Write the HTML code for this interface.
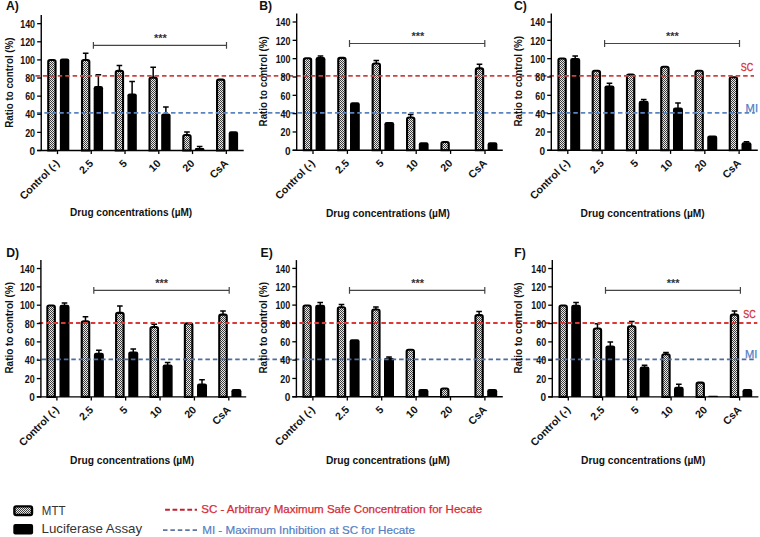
<!DOCTYPE html><html><head><meta charset="utf-8"><style>html,body{margin:0;padding:0;background:#fff;}svg{display:block;}</style></head><body>
<div class="wrap"><svg width="760" height="537" viewBox="0 0 760 537">
<defs><pattern id="chk" patternUnits="userSpaceOnUse" width="2" height="2"><rect width="2" height="2" fill="#e9e9e9"/><rect width="1" height="1" fill="#3e3e3e"/><rect x="1" y="1" width="1" height="1" fill="#3e3e3e"/></pattern></defs>
<rect width="760" height="537" fill="#fff"/>
<g>
<g><path d="M48.25 150.5V61.85Q48.25 60.05 50.05 60.05H53.75Q55.55 60.05 55.55 61.85V150.5Z" fill="url(#chk)" stroke="#000" stroke-width="2.1"/><path d="M59.9 150.5V60.6Q59.9 58.4 62.1 58.4H67.1Q69.3 58.4 69.3 60.6V150.5Z" fill="#000"/><path d="M85.66 60V53M82.86 53.3H88.46" stroke="#000" stroke-width="1.5" fill="none"/><path d="M82.01 150.5V61.85Q82.01 60.05 83.81 60.05H87.51Q89.31 60.05 89.31 61.85V150.5Z" fill="url(#chk)" stroke="#000" stroke-width="2.1"/><path d="M98.36 87V74.5M95.56 74.8H101.16" stroke="#000" stroke-width="1.5" fill="none"/><path d="M93.66 150.5V88.2Q93.66 86 95.86 86H100.86Q103.06 86 103.06 88.2V150.5Z" fill="#000"/><path d="M119.42 70.8V65.3M116.62 65.6H122.22" stroke="#000" stroke-width="1.5" fill="none"/><path d="M115.77 150.5V72.65Q115.77 70.85 117.57 70.85H121.27Q123.07 70.85 123.07 72.65V150.5Z" fill="url(#chk)" stroke="#000" stroke-width="2.1"/><path d="M132.12 94.4V81.1M129.32 81.4H134.92" stroke="#000" stroke-width="1.5" fill="none"/><path d="M127.42 150.5V95.6Q127.42 93.4 129.62 93.4H134.62Q136.82 93.4 136.82 95.6V150.5Z" fill="#000"/><path d="M153.18 77.6V66.9M150.38 67.2H155.98" stroke="#000" stroke-width="1.5" fill="none"/><path d="M149.53 150.5V79.45Q149.53 77.65 151.33 77.65H155.03Q156.83 77.65 156.83 79.45V150.5Z" fill="url(#chk)" stroke="#000" stroke-width="2.1"/><path d="M165.88 114.4V106.7M163.08 107H168.68" stroke="#000" stroke-width="1.5" fill="none"/><path d="M161.18 150.5V115.6Q161.18 113.4 163.38 113.4H168.38Q170.58 113.4 170.58 115.6V150.5Z" fill="#000"/><path d="M186.94 135V131.8M184.14 132.1H189.74" stroke="#000" stroke-width="1.5" fill="none"/><path d="M183.29 150.5V136.85Q183.29 135.05 185.09 135.05H188.79Q190.59 135.05 190.59 136.85V150.5Z" fill="url(#chk)" stroke="#000" stroke-width="2.1"/><path d="M199.64 148.9V146.3M196.84 146.6H202.44" stroke="#000" stroke-width="1.5" fill="none"/><path d="M194.94 150.5V149.2Q194.94 147.9 196.24 147.9H203.04Q204.34 147.9 204.34 149.2V150.5Z" fill="#000"/><path d="M217.05 150.5V81.45Q217.05 79.65 218.85 79.65H222.55Q224.35 79.65 224.35 81.45V150.5Z" fill="url(#chk)" stroke="#000" stroke-width="2.1"/><path d="M228.7 150.5V133.4Q228.7 131.2 230.9 131.2H235.9Q238.1 131.2 238.1 133.4V150.5Z" fill="#000"/><path d="M303.85 150.3V60.05Q303.85 58.25 305.65 58.25H309.35Q311.15 58.25 311.15 60.05V150.3Z" fill="url(#chk)" stroke="#000" stroke-width="2.1"/><path d="M320.5 58V55.7M317.7 56H323.3" stroke="#000" stroke-width="1.5" fill="none"/><path d="M315.6 150.3V59.2Q315.6 57 317.8 57H323.2Q325.4 57 325.4 59.2V150.3Z" fill="#000"/><path d="M338.25 150.3V59.65Q338.25 57.85 340.05 57.85H343.75Q345.55 57.85 345.55 59.65V150.3Z" fill="url(#chk)" stroke="#000" stroke-width="2.1"/><path d="M350 150.3V104.4Q350 102.2 352.2 102.2H357.6Q359.8 102.2 359.8 104.4V150.3Z" fill="#000"/><path d="M376.3 63.4V60.2M373.5 60.5H379.1" stroke="#000" stroke-width="1.5" fill="none"/><path d="M372.65 150.3V65.25Q372.65 63.45 374.45 63.45H378.15Q379.95 63.45 379.95 65.25V150.3Z" fill="url(#chk)" stroke="#000" stroke-width="2.1"/><path d="M384.4 150.3V124.2Q384.4 122 386.6 122H392Q394.2 122 394.2 124.2V150.3Z" fill="#000"/><path d="M410.7 117.5V114.3M407.9 114.6H413.5" stroke="#000" stroke-width="1.5" fill="none"/><path d="M407.05 150.3V119.35Q407.05 117.55 408.85 117.55H412.55Q414.35 117.55 414.35 119.35V150.3Z" fill="url(#chk)" stroke="#000" stroke-width="2.1"/><path d="M418.8 150.3V144.4Q418.8 142.2 421 142.2H426.4Q428.6 142.2 428.6 144.4V150.3Z" fill="#000"/><path d="M441.45 150.3V143.85Q441.45 142.05 443.25 142.05H446.95Q448.75 142.05 448.75 143.85V150.3Z" fill="url(#chk)" stroke="#000" stroke-width="2.1"/><path d="M479.5 68.3V64M476.7 64.3H482.3" stroke="#000" stroke-width="1.5" fill="none"/><path d="M475.85 150.3V70.15Q475.85 68.35 477.65 68.35H481.35Q483.15 68.35 483.15 70.15V150.3Z" fill="url(#chk)" stroke="#000" stroke-width="2.1"/><path d="M487.6 150.3V144.4Q487.6 142.2 489.8 142.2H495.2Q497.4 142.2 497.4 144.4V150.3Z" fill="#000"/><path d="M558.45 150.3V60.25Q558.45 58.45 560.25 58.45H563.95Q565.75 58.45 565.75 60.25V150.3Z" fill="url(#chk)" stroke="#000" stroke-width="2.1"/><path d="M575.2 58.9V55.7M572.4 56H578" stroke="#000" stroke-width="1.5" fill="none"/><path d="M570.2 150.3V60.1Q570.2 57.9 572.4 57.9H578Q580.2 57.9 580.2 60.1V150.3Z" fill="#000"/><path d="M592.71 150.3V72.55Q592.71 70.75 594.51 70.75H598.21Q600.01 70.75 600.01 72.55V150.3Z" fill="url(#chk)" stroke="#000" stroke-width="2.1"/><path d="M609.46 86.4V83M606.66 83.3H612.26" stroke="#000" stroke-width="1.5" fill="none"/><path d="M604.46 150.3V87.6Q604.46 85.4 606.66 85.4H612.26Q614.46 85.4 614.46 87.6V150.3Z" fill="#000"/><path d="M626.97 150.3V76.35Q626.97 74.55 628.77 74.55H632.47Q634.27 74.55 634.27 76.35V150.3Z" fill="url(#chk)" stroke="#000" stroke-width="2.1"/><path d="M643.72 101.8V99.1M640.92 99.4H646.52" stroke="#000" stroke-width="1.5" fill="none"/><path d="M638.72 150.3V103Q638.72 100.8 640.92 100.8H646.52Q648.72 100.8 648.72 103V150.3Z" fill="#000"/><path d="M661.23 150.3V68.55Q661.23 66.75 663.03 66.75H666.73Q668.53 66.75 668.53 68.55V150.3Z" fill="url(#chk)" stroke="#000" stroke-width="2.1"/><path d="M677.98 108.5V102.7M675.18 103H680.78" stroke="#000" stroke-width="1.5" fill="none"/><path d="M672.98 150.3V109.7Q672.98 107.5 675.18 107.5H680.78Q682.98 107.5 682.98 109.7V150.3Z" fill="#000"/><path d="M695.49 150.3V72.55Q695.49 70.75 697.29 70.75H700.99Q702.79 70.75 702.79 72.55V150.3Z" fill="url(#chk)" stroke="#000" stroke-width="2.1"/><path d="M707.24 150.3V137.7Q707.24 135.5 709.44 135.5H715.04Q717.24 135.5 717.24 137.7V150.3Z" fill="#000"/><path d="M729.75 150.3V79.05Q729.75 77.25 731.55 77.25H735.25Q737.05 77.25 737.05 79.05V150.3Z" fill="url(#chk)" stroke="#000" stroke-width="2.1"/><path d="M746.5 143.2V141.5M743.7 141.8H749.3" stroke="#000" stroke-width="1.5" fill="none"/><path d="M741.5 150.3V144.4Q741.5 142.2 743.7 142.2H749.3Q751.5 142.2 751.5 144.4V150.3Z" fill="#000"/><path d="M47.35 396.9V307.35Q47.35 305.55 49.15 305.55H53.05Q54.85 305.55 54.85 307.35V396.9Z" fill="url(#chk)" stroke="#000" stroke-width="2.1"/><path d="M64.5 305.7V302.7M61.7 303H67.3" stroke="#000" stroke-width="1.5" fill="none"/><path d="M59.5 396.9V306.9Q59.5 304.7 61.7 304.7H67.3Q69.5 304.7 69.5 306.9V396.9Z" fill="#000"/><path d="M85.48 321.3V316.4M82.68 316.7H88.28" stroke="#000" stroke-width="1.5" fill="none"/><path d="M81.73 396.9V323.15Q81.73 321.35 83.53 321.35H87.43Q89.23 321.35 89.23 323.15V396.9Z" fill="url(#chk)" stroke="#000" stroke-width="2.1"/><path d="M98.88 353.7V349.9M96.08 350.2H101.68" stroke="#000" stroke-width="1.5" fill="none"/><path d="M93.88 396.9V354.9Q93.88 352.7 96.08 352.7H101.68Q103.88 352.7 103.88 354.9V396.9Z" fill="#000"/><path d="M119.86 312.8V305.6M117.06 305.9H122.66" stroke="#000" stroke-width="1.5" fill="none"/><path d="M116.11 396.9V314.65Q116.11 312.85 117.91 312.85H121.81Q123.61 312.85 123.61 314.65V396.9Z" fill="url(#chk)" stroke="#000" stroke-width="2.1"/><path d="M133.26 352.4V348.8M130.46 349.1H136.06" stroke="#000" stroke-width="1.5" fill="none"/><path d="M128.26 396.9V353.6Q128.26 351.4 130.46 351.4H136.06Q138.26 351.4 138.26 353.6V396.9Z" fill="#000"/><path d="M154.24 326.9V324M151.44 324.3H157.04" stroke="#000" stroke-width="1.5" fill="none"/><path d="M150.49 396.9V328.75Q150.49 326.95 152.29 326.95H156.19Q157.99 326.95 157.99 328.75V396.9Z" fill="url(#chk)" stroke="#000" stroke-width="2.1"/><path d="M167.64 365.4V362.2M164.84 362.5H170.44" stroke="#000" stroke-width="1.5" fill="none"/><path d="M162.64 396.9V366.6Q162.64 364.4 164.84 364.4H170.44Q172.64 364.4 172.64 366.6V396.9Z" fill="#000"/><path d="M184.87 396.9V325.15Q184.87 323.35 186.67 323.35H190.57Q192.37 323.35 192.37 325.15V396.9Z" fill="url(#chk)" stroke="#000" stroke-width="2.1"/><path d="M202.02 384.4V379.4M199.22 379.7H204.82" stroke="#000" stroke-width="1.5" fill="none"/><path d="M197.02 396.9V385.6Q197.02 383.4 199.22 383.4H204.82Q207.02 383.4 207.02 385.6V396.9Z" fill="#000"/><path d="M223 314.6V310.8M220.2 311.1H225.8" stroke="#000" stroke-width="1.5" fill="none"/><path d="M219.25 396.9V316.45Q219.25 314.65 221.05 314.65H224.95Q226.75 314.65 226.75 316.45V396.9Z" fill="url(#chk)" stroke="#000" stroke-width="2.1"/><path d="M231.4 396.9V391.2Q231.4 389 233.6 389H239.2Q241.4 389 241.4 391.2V396.9Z" fill="#000"/><path d="M303.45 396.8V307.35Q303.45 305.55 305.25 305.55H308.95Q310.75 305.55 310.75 307.35V396.8Z" fill="url(#chk)" stroke="#000" stroke-width="2.1"/><path d="M320.2 305.7V302.3M317.4 302.6H323" stroke="#000" stroke-width="1.5" fill="none"/><path d="M315.2 396.8V306.9Q315.2 304.7 317.4 304.7H323Q325.2 304.7 325.2 306.9V396.8Z" fill="#000"/><path d="M341.5 307.2V304.1M338.7 304.4H344.3" stroke="#000" stroke-width="1.5" fill="none"/><path d="M337.85 396.8V309.05Q337.85 307.25 339.65 307.25H343.35Q345.15 307.25 345.15 309.05V396.8Z" fill="url(#chk)" stroke="#000" stroke-width="2.1"/><path d="M349.6 396.8V341.5Q349.6 339.3 351.8 339.3H357.4Q359.6 339.3 359.6 341.5V396.8Z" fill="#000"/><path d="M375.9 309.5V306.7M373.1 307H378.7" stroke="#000" stroke-width="1.5" fill="none"/><path d="M372.25 396.8V311.35Q372.25 309.55 374.05 309.55H377.75Q379.55 309.55 379.55 311.35V396.8Z" fill="url(#chk)" stroke="#000" stroke-width="2.1"/><path d="M389 358.7V356.6M386.2 356.9H391.8" stroke="#000" stroke-width="1.5" fill="none"/><path d="M384 396.8V359.9Q384 357.7 386.2 357.7H391.8Q394 357.7 394 359.9V396.8Z" fill="#000"/><path d="M406.65 396.8V351.55Q406.65 349.75 408.45 349.75H412.15Q413.95 349.75 413.95 351.55V396.8Z" fill="url(#chk)" stroke="#000" stroke-width="2.1"/><path d="M418.4 396.8V391.2Q418.4 389 420.6 389H426.2Q428.4 389 428.4 391.2V396.8Z" fill="#000"/><path d="M441.05 396.8V390.25Q441.05 388.45 442.85 388.45H446.55Q448.35 388.45 448.35 390.25V396.8Z" fill="url(#chk)" stroke="#000" stroke-width="2.1"/><path d="M479.1 315.1V311.2M476.3 311.5H481.9" stroke="#000" stroke-width="1.5" fill="none"/><path d="M475.45 396.8V316.95Q475.45 315.15 477.25 315.15H480.95Q482.75 315.15 482.75 316.95V396.8Z" fill="url(#chk)" stroke="#000" stroke-width="2.1"/><path d="M487.2 396.8V391.2Q487.2 389 489.4 389H495Q497.2 389 497.2 391.2V396.8Z" fill="#000"/><path d="M559.55 396.9V307.35Q559.55 305.55 561.35 305.55H565.05Q566.85 305.55 566.85 307.35V396.9Z" fill="url(#chk)" stroke="#000" stroke-width="2.1"/><path d="M576.05 305.7V302.3M573.25 302.6H578.85" stroke="#000" stroke-width="1.5" fill="none"/><path d="M571.2 396.9V306.9Q571.2 304.7 573.4 304.7H578.7Q580.9 304.7 580.9 306.9V396.9Z" fill="#000"/><path d="M597.46 328.5V323.5M594.66 323.8H600.26" stroke="#000" stroke-width="1.5" fill="none"/><path d="M593.81 396.9V330.35Q593.81 328.55 595.61 328.55H599.31Q601.11 328.55 601.11 330.35V396.9Z" fill="url(#chk)" stroke="#000" stroke-width="2.1"/><path d="M610.31 346.4V341.8M607.51 342.1H613.11" stroke="#000" stroke-width="1.5" fill="none"/><path d="M605.46 396.9V347.6Q605.46 345.4 607.66 345.4H612.96Q615.16 345.4 615.16 347.6V396.9Z" fill="#000"/><path d="M631.72 326.2V321.3M628.92 321.6H634.52" stroke="#000" stroke-width="1.5" fill="none"/><path d="M628.07 396.9V328.05Q628.07 326.25 629.87 326.25H633.57Q635.37 326.25 635.37 328.05V396.9Z" fill="url(#chk)" stroke="#000" stroke-width="2.1"/><path d="M644.57 367.6V364.9M641.77 365.2H647.37" stroke="#000" stroke-width="1.5" fill="none"/><path d="M639.72 396.9V368.8Q639.72 366.6 641.92 366.6H647.22Q649.42 366.6 649.42 368.8V396.9Z" fill="#000"/><path d="M665.98 354.2V352.1M663.18 352.4H668.78" stroke="#000" stroke-width="1.5" fill="none"/><path d="M662.33 396.9V356.05Q662.33 354.25 664.13 354.25H667.83Q669.63 354.25 669.63 356.05V396.9Z" fill="url(#chk)" stroke="#000" stroke-width="2.1"/><path d="M678.83 387.7V383.9M676.03 384.2H681.63" stroke="#000" stroke-width="1.5" fill="none"/><path d="M673.98 396.9V388.9Q673.98 386.7 676.18 386.7H681.48Q683.68 386.7 683.68 388.9V396.9Z" fill="#000"/><path d="M696.59 396.9V384.45Q696.59 382.65 698.39 382.65H702.09Q703.89 382.65 703.89 384.45V396.9Z" fill="url(#chk)" stroke="#000" stroke-width="2.1"/><path d="M708.24 396.9V396.3Q708.24 395.7 708.84 395.7H717.34Q717.94 395.7 717.94 396.3V396.9Z" fill="#000"/><path d="M734.5 314.6V310.8M731.7 311.1H737.3" stroke="#000" stroke-width="1.5" fill="none"/><path d="M730.85 396.9V316.45Q730.85 314.65 732.65 314.65H736.35Q738.15 314.65 738.15 316.45V396.9Z" fill="url(#chk)" stroke="#000" stroke-width="2.1"/><path d="M742.5 396.9V391.2Q742.5 389 744.7 389H750Q752.2 389 752.2 391.2V396.9Z" fill="#000"/></g>
<line x1="35.4" y1="75.85" x2="754" y2="75.85" stroke="#cc4242" stroke-width="1.8" stroke-dasharray="4.5 2.95" stroke-dashoffset="7.45"/>
<line x1="36.9" y1="112.95" x2="754.8" y2="112.95" stroke="#5a84c0" stroke-width="1.7" stroke-dasharray="4.5 2.95" stroke-dashoffset="7.45"/>
<line x1="36.9" y1="322.95" x2="757.3" y2="322.95" stroke="#dc3838" stroke-width="1.9" stroke-dasharray="4.5 2.95" stroke-dashoffset="5.65"/>
<line x1="36.9" y1="359.4" x2="754" y2="359.4" stroke="#4d6d9e" stroke-width="1.6" stroke-dasharray="4.5 2.95" stroke-dashoffset="2.85"/>
<g><line x1="57.5" y1="150.5" x2="57.5" y2="154.1" stroke="#000" stroke-width="1.3"/><text transform="translate(60.1 164.1) rotate(-45)" text-anchor="end" font-family='"Liberation Sans", sans-serif' font-weight="bold" font-size="10.6" fill="#111">Control (-)</text><line x1="91.26" y1="150.5" x2="91.26" y2="154.1" stroke="#000" stroke-width="1.3"/><text transform="translate(93.86 164.1) rotate(-45)" text-anchor="end" font-family='"Liberation Sans", sans-serif' font-weight="bold" font-size="10.6" fill="#111">2.5</text><line x1="125.02" y1="150.5" x2="125.02" y2="154.1" stroke="#000" stroke-width="1.3"/><text transform="translate(127.62 164.1) rotate(-45)" text-anchor="end" font-family='"Liberation Sans", sans-serif' font-weight="bold" font-size="10.6" fill="#111">5</text><line x1="158.78" y1="150.5" x2="158.78" y2="154.1" stroke="#000" stroke-width="1.3"/><text transform="translate(161.38 164.1) rotate(-45)" text-anchor="end" font-family='"Liberation Sans", sans-serif' font-weight="bold" font-size="10.6" fill="#111">10</text><line x1="192.54" y1="150.5" x2="192.54" y2="154.1" stroke="#000" stroke-width="1.3"/><text transform="translate(195.14 164.1) rotate(-45)" text-anchor="end" font-family='"Liberation Sans", sans-serif' font-weight="bold" font-size="10.6" fill="#111">20</text><line x1="226.3" y1="150.5" x2="226.3" y2="154.1" stroke="#000" stroke-width="1.3"/><text transform="translate(228.9 164.1) rotate(-45)" text-anchor="end" font-family='"Liberation Sans", sans-serif' font-weight="bold" font-size="10.6" fill="#111">CsA</text><text x="6" y="10.2" font-family='"Liberation Sans", sans-serif' font-weight="bold" font-size="12.2" fill="#111">A)</text><line x1="41.25" y1="15.1" x2="41.25" y2="151.1" stroke="#000" stroke-width="1.4"/><line x1="37.15" y1="150.5" x2="41.25" y2="150.5" stroke="#000" stroke-width="1.3"/><text x="35.05" y="154.7" text-anchor="end" font-family='"Liberation Sans", sans-serif' font-weight="bold" font-size="10" fill="#111">0</text><line x1="37.15" y1="132.38" x2="41.25" y2="132.38" stroke="#000" stroke-width="1.3"/><text x="35.05" y="136.58" text-anchor="end" font-family='"Liberation Sans", sans-serif' font-weight="bold" font-size="10" textLength="9.9" lengthAdjust="spacingAndGlyphs" fill="#111">20</text><line x1="37.15" y1="114.26" x2="41.25" y2="114.26" stroke="#000" stroke-width="1.3"/><text x="35.05" y="118.46" text-anchor="end" font-family='"Liberation Sans", sans-serif' font-weight="bold" font-size="10" textLength="9.9" lengthAdjust="spacingAndGlyphs" fill="#111">40</text><line x1="37.15" y1="96.14" x2="41.25" y2="96.14" stroke="#000" stroke-width="1.3"/><text x="35.05" y="100.34" text-anchor="end" font-family='"Liberation Sans", sans-serif' font-weight="bold" font-size="10" textLength="9.9" lengthAdjust="spacingAndGlyphs" fill="#111">60</text><line x1="37.15" y1="78.02" x2="41.25" y2="78.02" stroke="#000" stroke-width="1.3"/><text x="35.05" y="82.22" text-anchor="end" font-family='"Liberation Sans", sans-serif' font-weight="bold" font-size="10" textLength="9.9" lengthAdjust="spacingAndGlyphs" fill="#111">80</text><line x1="37.15" y1="59.9" x2="41.25" y2="59.9" stroke="#000" stroke-width="1.3"/><text x="35.05" y="64.1" text-anchor="end" font-family='"Liberation Sans", sans-serif' font-weight="bold" font-size="10" textLength="14.8" lengthAdjust="spacingAndGlyphs" fill="#111">100</text><line x1="37.15" y1="41.78" x2="41.25" y2="41.78" stroke="#000" stroke-width="1.3"/><text x="35.05" y="45.98" text-anchor="end" font-family='"Liberation Sans", sans-serif' font-weight="bold" font-size="10" textLength="14.8" lengthAdjust="spacingAndGlyphs" fill="#111">120</text><line x1="37.15" y1="23.66" x2="41.25" y2="23.66" stroke="#000" stroke-width="1.3"/><text x="35.05" y="27.86" text-anchor="end" font-family='"Liberation Sans", sans-serif' font-weight="bold" font-size="10" textLength="14.8" lengthAdjust="spacingAndGlyphs" fill="#111">140</text><line x1="37.15" y1="150.5" x2="243.7" y2="150.5" stroke="#000" stroke-width="1.4"/><path d="M93.4 42V48.8M93.4 45.4H226.5M226.5 42V48.8" stroke="#444" stroke-width="1.2" fill="none"/><text x="160.4" y="42.1" text-anchor="middle" font-family='"Liberation Sans", sans-serif' font-size="11" font-weight="bold" fill="#333">***</text><text transform="translate(12.6 82.6) rotate(-90)" text-anchor="middle" font-family='"Liberation Sans", sans-serif' font-weight="bold" font-size="10" textLength="90.3" lengthAdjust="spacingAndGlyphs" fill="#111">Ratio to control (%)</text><text x="70.1" y="216.2" font-family='"Liberation Sans", sans-serif' font-weight="bold" font-size="10" textLength="122.1" lengthAdjust="spacingAndGlyphs" fill="#111">Drug concentrations (µM)</text><line x1="313" y1="150.3" x2="313" y2="153.9" stroke="#000" stroke-width="1.3"/><text transform="translate(315.6 163.9) rotate(-45)" text-anchor="end" font-family='"Liberation Sans", sans-serif' font-weight="bold" font-size="10.6" fill="#111">Control (-)</text><line x1="347.4" y1="150.3" x2="347.4" y2="153.9" stroke="#000" stroke-width="1.3"/><text transform="translate(350 163.9) rotate(-45)" text-anchor="end" font-family='"Liberation Sans", sans-serif' font-weight="bold" font-size="10.6" fill="#111">2.5</text><line x1="381.8" y1="150.3" x2="381.8" y2="153.9" stroke="#000" stroke-width="1.3"/><text transform="translate(384.4 163.9) rotate(-45)" text-anchor="end" font-family='"Liberation Sans", sans-serif' font-weight="bold" font-size="10.6" fill="#111">5</text><line x1="416.2" y1="150.3" x2="416.2" y2="153.9" stroke="#000" stroke-width="1.3"/><text transform="translate(418.8 163.9) rotate(-45)" text-anchor="end" font-family='"Liberation Sans", sans-serif' font-weight="bold" font-size="10.6" fill="#111">10</text><line x1="450.6" y1="150.3" x2="450.6" y2="153.9" stroke="#000" stroke-width="1.3"/><text transform="translate(453.2 163.9) rotate(-45)" text-anchor="end" font-family='"Liberation Sans", sans-serif' font-weight="bold" font-size="10.6" fill="#111">20</text><line x1="485" y1="150.3" x2="485" y2="153.9" stroke="#000" stroke-width="1.3"/><text transform="translate(487.6 163.9) rotate(-45)" text-anchor="end" font-family='"Liberation Sans", sans-serif' font-weight="bold" font-size="10.6" fill="#111">CsA</text><text x="259.3" y="10.4" font-family='"Liberation Sans", sans-serif' font-weight="bold" font-size="12.2" fill="#111">B)</text><line x1="296.7" y1="13.4" x2="296.7" y2="150.9" stroke="#000" stroke-width="1.4"/><line x1="292.6" y1="150.3" x2="296.7" y2="150.3" stroke="#000" stroke-width="1.3"/><text x="290.5" y="154.5" text-anchor="end" font-family='"Liberation Sans", sans-serif' font-weight="bold" font-size="10" fill="#111">0</text><line x1="292.6" y1="131.97" x2="296.7" y2="131.97" stroke="#000" stroke-width="1.3"/><text x="290.5" y="136.17" text-anchor="end" font-family='"Liberation Sans", sans-serif' font-weight="bold" font-size="10" textLength="9.9" lengthAdjust="spacingAndGlyphs" fill="#111">20</text><line x1="292.6" y1="113.64" x2="296.7" y2="113.64" stroke="#000" stroke-width="1.3"/><text x="290.5" y="117.84" text-anchor="end" font-family='"Liberation Sans", sans-serif' font-weight="bold" font-size="10" textLength="9.9" lengthAdjust="spacingAndGlyphs" fill="#111">40</text><line x1="292.6" y1="95.32" x2="296.7" y2="95.32" stroke="#000" stroke-width="1.3"/><text x="290.5" y="99.52" text-anchor="end" font-family='"Liberation Sans", sans-serif' font-weight="bold" font-size="10" textLength="9.9" lengthAdjust="spacingAndGlyphs" fill="#111">60</text><line x1="292.6" y1="76.99" x2="296.7" y2="76.99" stroke="#000" stroke-width="1.3"/><text x="290.5" y="81.19" text-anchor="end" font-family='"Liberation Sans", sans-serif' font-weight="bold" font-size="10" textLength="9.9" lengthAdjust="spacingAndGlyphs" fill="#111">80</text><line x1="292.6" y1="58.66" x2="296.7" y2="58.66" stroke="#000" stroke-width="1.3"/><text x="290.5" y="62.86" text-anchor="end" font-family='"Liberation Sans", sans-serif' font-weight="bold" font-size="10" textLength="14.8" lengthAdjust="spacingAndGlyphs" fill="#111">100</text><line x1="292.6" y1="40.33" x2="296.7" y2="40.33" stroke="#000" stroke-width="1.3"/><text x="290.5" y="44.53" text-anchor="end" font-family='"Liberation Sans", sans-serif' font-weight="bold" font-size="10" textLength="14.8" lengthAdjust="spacingAndGlyphs" fill="#111">120</text><line x1="292.6" y1="22" x2="296.7" y2="22" stroke="#000" stroke-width="1.3"/><text x="290.5" y="26.2" text-anchor="end" font-family='"Liberation Sans", sans-serif' font-weight="bold" font-size="10" textLength="14.8" lengthAdjust="spacingAndGlyphs" fill="#111">140</text><line x1="292.6" y1="150.3" x2="502.8" y2="150.3" stroke="#000" stroke-width="1.4"/><path d="M349.5 40.1V46.9M349.5 43.5H484.8M484.8 40.1V46.9" stroke="#444" stroke-width="1.2" fill="none"/><text x="417.9" y="40" text-anchor="middle" font-family='"Liberation Sans", sans-serif' font-size="11" font-weight="bold" fill="#333">***</text><text transform="translate(267.4 81.3) rotate(-90)" text-anchor="middle" font-family='"Liberation Sans", sans-serif' font-weight="bold" font-size="10" textLength="90.2" lengthAdjust="spacingAndGlyphs" fill="#111">Ratio to control (%)</text><text x="325.9" y="216.8" font-family='"Liberation Sans", sans-serif' font-weight="bold" font-size="10" textLength="124" lengthAdjust="spacingAndGlyphs" fill="#111">Drug concentrations (µM)</text><line x1="567.8" y1="150.3" x2="567.8" y2="153.9" stroke="#000" stroke-width="1.3"/><text transform="translate(570.4 163.9) rotate(-45)" text-anchor="end" font-family='"Liberation Sans", sans-serif' font-weight="bold" font-size="10.6" fill="#111">Control (-)</text><line x1="602.06" y1="150.3" x2="602.06" y2="153.9" stroke="#000" stroke-width="1.3"/><text transform="translate(604.66 163.9) rotate(-45)" text-anchor="end" font-family='"Liberation Sans", sans-serif' font-weight="bold" font-size="10.6" fill="#111">2.5</text><line x1="636.32" y1="150.3" x2="636.32" y2="153.9" stroke="#000" stroke-width="1.3"/><text transform="translate(638.92 163.9) rotate(-45)" text-anchor="end" font-family='"Liberation Sans", sans-serif' font-weight="bold" font-size="10.6" fill="#111">5</text><line x1="670.58" y1="150.3" x2="670.58" y2="153.9" stroke="#000" stroke-width="1.3"/><text transform="translate(673.18 163.9) rotate(-45)" text-anchor="end" font-family='"Liberation Sans", sans-serif' font-weight="bold" font-size="10.6" fill="#111">10</text><line x1="704.84" y1="150.3" x2="704.84" y2="153.9" stroke="#000" stroke-width="1.3"/><text transform="translate(707.44 163.9) rotate(-45)" text-anchor="end" font-family='"Liberation Sans", sans-serif' font-weight="bold" font-size="10.6" fill="#111">20</text><line x1="739.1" y1="150.3" x2="739.1" y2="153.9" stroke="#000" stroke-width="1.3"/><text transform="translate(741.7 163.9) rotate(-45)" text-anchor="end" font-family='"Liberation Sans", sans-serif' font-weight="bold" font-size="10.6" fill="#111">CsA</text><text x="514" y="10.3" font-family='"Liberation Sans", sans-serif' font-weight="bold" font-size="12.2" fill="#111">C)</text><line x1="551.3" y1="13.4" x2="551.3" y2="150.9" stroke="#000" stroke-width="1.4"/><line x1="547.2" y1="150.3" x2="551.3" y2="150.3" stroke="#000" stroke-width="1.3"/><text x="545.1" y="154.5" text-anchor="end" font-family='"Liberation Sans", sans-serif' font-weight="bold" font-size="10" fill="#111">0</text><line x1="547.2" y1="131.97" x2="551.3" y2="131.97" stroke="#000" stroke-width="1.3"/><text x="545.1" y="136.17" text-anchor="end" font-family='"Liberation Sans", sans-serif' font-weight="bold" font-size="10" textLength="9.9" lengthAdjust="spacingAndGlyphs" fill="#111">20</text><line x1="547.2" y1="113.64" x2="551.3" y2="113.64" stroke="#000" stroke-width="1.3"/><text x="545.1" y="117.84" text-anchor="end" font-family='"Liberation Sans", sans-serif' font-weight="bold" font-size="10" textLength="9.9" lengthAdjust="spacingAndGlyphs" fill="#111">40</text><line x1="547.2" y1="95.32" x2="551.3" y2="95.32" stroke="#000" stroke-width="1.3"/><text x="545.1" y="99.52" text-anchor="end" font-family='"Liberation Sans", sans-serif' font-weight="bold" font-size="10" textLength="9.9" lengthAdjust="spacingAndGlyphs" fill="#111">60</text><line x1="547.2" y1="76.99" x2="551.3" y2="76.99" stroke="#000" stroke-width="1.3"/><text x="545.1" y="81.19" text-anchor="end" font-family='"Liberation Sans", sans-serif' font-weight="bold" font-size="10" textLength="9.9" lengthAdjust="spacingAndGlyphs" fill="#111">80</text><line x1="547.2" y1="58.66" x2="551.3" y2="58.66" stroke="#000" stroke-width="1.3"/><text x="545.1" y="62.86" text-anchor="end" font-family='"Liberation Sans", sans-serif' font-weight="bold" font-size="10" textLength="14.8" lengthAdjust="spacingAndGlyphs" fill="#111">100</text><line x1="547.2" y1="40.33" x2="551.3" y2="40.33" stroke="#000" stroke-width="1.3"/><text x="545.1" y="44.53" text-anchor="end" font-family='"Liberation Sans", sans-serif' font-weight="bold" font-size="10" textLength="14.8" lengthAdjust="spacingAndGlyphs" fill="#111">120</text><line x1="547.2" y1="22" x2="551.3" y2="22" stroke="#000" stroke-width="1.3"/><text x="545.1" y="26.2" text-anchor="end" font-family='"Liberation Sans", sans-serif' font-weight="bold" font-size="10" textLength="14.8" lengthAdjust="spacingAndGlyphs" fill="#111">140</text><line x1="547.2" y1="150.3" x2="757.8" y2="150.3" stroke="#000" stroke-width="1.4"/><path d="M604.6 40.1V46.9M604.6 43.5H739.5M739.5 40.1V46.9" stroke="#444" stroke-width="1.2" fill="none"/><text x="672.4" y="40" text-anchor="middle" font-family='"Liberation Sans", sans-serif' font-size="11" font-weight="bold" fill="#333">***</text><text transform="translate(522 81.3) rotate(-90)" text-anchor="middle" font-family='"Liberation Sans", sans-serif' font-weight="bold" font-size="10" textLength="90.6" lengthAdjust="spacingAndGlyphs" fill="#111">Ratio to control (%)</text><text x="580.6" y="216.8" font-family='"Liberation Sans", sans-serif' font-weight="bold" font-size="10" textLength="124.2" lengthAdjust="spacingAndGlyphs" fill="#111">Drug concentrations (µM)</text><line x1="56.9" y1="396.9" x2="56.9" y2="400.5" stroke="#000" stroke-width="1.3"/><text transform="translate(59.5 410.5) rotate(-45)" text-anchor="end" font-family='"Liberation Sans", sans-serif' font-weight="bold" font-size="10.6" fill="#111">Control (-)</text><line x1="91.28" y1="396.9" x2="91.28" y2="400.5" stroke="#000" stroke-width="1.3"/><text transform="translate(93.88 410.5) rotate(-45)" text-anchor="end" font-family='"Liberation Sans", sans-serif' font-weight="bold" font-size="10.6" fill="#111">2.5</text><line x1="125.66" y1="396.9" x2="125.66" y2="400.5" stroke="#000" stroke-width="1.3"/><text transform="translate(128.26 410.5) rotate(-45)" text-anchor="end" font-family='"Liberation Sans", sans-serif' font-weight="bold" font-size="10.6" fill="#111">5</text><line x1="160.04" y1="396.9" x2="160.04" y2="400.5" stroke="#000" stroke-width="1.3"/><text transform="translate(162.64 410.5) rotate(-45)" text-anchor="end" font-family='"Liberation Sans", sans-serif' font-weight="bold" font-size="10.6" fill="#111">10</text><line x1="194.42" y1="396.9" x2="194.42" y2="400.5" stroke="#000" stroke-width="1.3"/><text transform="translate(197.02 410.5) rotate(-45)" text-anchor="end" font-family='"Liberation Sans", sans-serif' font-weight="bold" font-size="10.6" fill="#111">20</text><line x1="228.8" y1="396.9" x2="228.8" y2="400.5" stroke="#000" stroke-width="1.3"/><text transform="translate(231.4 410.5) rotate(-45)" text-anchor="end" font-family='"Liberation Sans", sans-serif' font-weight="bold" font-size="10.6" fill="#111">CsA</text><text x="6.3" y="257" font-family='"Liberation Sans", sans-serif' font-weight="bold" font-size="12.2" fill="#111">D)</text><line x1="40.9" y1="260.1" x2="40.9" y2="397.5" stroke="#000" stroke-width="1.4"/><line x1="36.8" y1="396.9" x2="40.9" y2="396.9" stroke="#000" stroke-width="1.3"/><text x="34.7" y="401.1" text-anchor="end" font-family='"Liberation Sans", sans-serif' font-weight="bold" font-size="10" fill="#111">0</text><line x1="36.8" y1="378.56" x2="40.9" y2="378.56" stroke="#000" stroke-width="1.3"/><text x="34.7" y="382.76" text-anchor="end" font-family='"Liberation Sans", sans-serif' font-weight="bold" font-size="10" textLength="9.9" lengthAdjust="spacingAndGlyphs" fill="#111">20</text><line x1="36.8" y1="360.22" x2="40.9" y2="360.22" stroke="#000" stroke-width="1.3"/><text x="34.7" y="364.42" text-anchor="end" font-family='"Liberation Sans", sans-serif' font-weight="bold" font-size="10" textLength="9.9" lengthAdjust="spacingAndGlyphs" fill="#111">40</text><line x1="36.8" y1="341.88" x2="40.9" y2="341.88" stroke="#000" stroke-width="1.3"/><text x="34.7" y="346.08" text-anchor="end" font-family='"Liberation Sans", sans-serif' font-weight="bold" font-size="10" textLength="9.9" lengthAdjust="spacingAndGlyphs" fill="#111">60</text><line x1="36.8" y1="323.54" x2="40.9" y2="323.54" stroke="#000" stroke-width="1.3"/><text x="34.7" y="327.74" text-anchor="end" font-family='"Liberation Sans", sans-serif' font-weight="bold" font-size="10" textLength="9.9" lengthAdjust="spacingAndGlyphs" fill="#111">80</text><line x1="36.8" y1="305.2" x2="40.9" y2="305.2" stroke="#000" stroke-width="1.3"/><text x="34.7" y="309.4" text-anchor="end" font-family='"Liberation Sans", sans-serif' font-weight="bold" font-size="10" textLength="14.8" lengthAdjust="spacingAndGlyphs" fill="#111">100</text><line x1="36.8" y1="286.86" x2="40.9" y2="286.86" stroke="#000" stroke-width="1.3"/><text x="34.7" y="291.06" text-anchor="end" font-family='"Liberation Sans", sans-serif' font-weight="bold" font-size="10" textLength="14.8" lengthAdjust="spacingAndGlyphs" fill="#111">120</text><line x1="36.8" y1="268.52" x2="40.9" y2="268.52" stroke="#000" stroke-width="1.3"/><text x="34.7" y="272.72" text-anchor="end" font-family='"Liberation Sans", sans-serif' font-weight="bold" font-size="10" textLength="14.8" lengthAdjust="spacingAndGlyphs" fill="#111">140</text><line x1="36.8" y1="396.9" x2="246.2" y2="396.9" stroke="#000" stroke-width="1.4"/><path d="M93.8 287V293.8M93.8 290.4H229.2M229.2 287V293.8" stroke="#444" stroke-width="1.2" fill="none"/><text x="161.6" y="286.6" text-anchor="middle" font-family='"Liberation Sans", sans-serif' font-size="11" font-weight="bold" fill="#333">***</text><text transform="translate(12.6 327.8) rotate(-90)" text-anchor="middle" font-family='"Liberation Sans", sans-serif' font-weight="bold" font-size="10" textLength="91.5" lengthAdjust="spacingAndGlyphs" fill="#111">Ratio to control (%)</text><text x="70" y="463.9" font-family='"Liberation Sans", sans-serif' font-weight="bold" font-size="10" textLength="124.2" lengthAdjust="spacingAndGlyphs" fill="#111">Drug concentrations (µM)</text><line x1="312.9" y1="396.8" x2="312.9" y2="400.4" stroke="#000" stroke-width="1.3"/><text transform="translate(315.5 410.4) rotate(-45)" text-anchor="end" font-family='"Liberation Sans", sans-serif' font-weight="bold" font-size="10.6" fill="#111">Control (-)</text><line x1="347.3" y1="396.8" x2="347.3" y2="400.4" stroke="#000" stroke-width="1.3"/><text transform="translate(349.9 410.4) rotate(-45)" text-anchor="end" font-family='"Liberation Sans", sans-serif' font-weight="bold" font-size="10.6" fill="#111">2.5</text><line x1="381.7" y1="396.8" x2="381.7" y2="400.4" stroke="#000" stroke-width="1.3"/><text transform="translate(384.3 410.4) rotate(-45)" text-anchor="end" font-family='"Liberation Sans", sans-serif' font-weight="bold" font-size="10.6" fill="#111">5</text><line x1="416.1" y1="396.8" x2="416.1" y2="400.4" stroke="#000" stroke-width="1.3"/><text transform="translate(418.7 410.4) rotate(-45)" text-anchor="end" font-family='"Liberation Sans", sans-serif' font-weight="bold" font-size="10.6" fill="#111">10</text><line x1="450.5" y1="396.8" x2="450.5" y2="400.4" stroke="#000" stroke-width="1.3"/><text transform="translate(453.1 410.4) rotate(-45)" text-anchor="end" font-family='"Liberation Sans", sans-serif' font-weight="bold" font-size="10.6" fill="#111">20</text><line x1="484.9" y1="396.8" x2="484.9" y2="400.4" stroke="#000" stroke-width="1.3"/><text transform="translate(487.5 410.4) rotate(-45)" text-anchor="end" font-family='"Liberation Sans", sans-serif' font-weight="bold" font-size="10.6" fill="#111">CsA</text><text x="260.6" y="257" font-family='"Liberation Sans", sans-serif' font-weight="bold" font-size="12.2" fill="#111">E)</text><line x1="296.4" y1="260.1" x2="296.4" y2="397.4" stroke="#000" stroke-width="1.4"/><line x1="292.3" y1="396.8" x2="296.4" y2="396.8" stroke="#000" stroke-width="1.3"/><text x="290.2" y="401" text-anchor="end" font-family='"Liberation Sans", sans-serif' font-weight="bold" font-size="10" fill="#111">0</text><line x1="292.3" y1="378.46" x2="296.4" y2="378.46" stroke="#000" stroke-width="1.3"/><text x="290.2" y="382.66" text-anchor="end" font-family='"Liberation Sans", sans-serif' font-weight="bold" font-size="10" textLength="9.9" lengthAdjust="spacingAndGlyphs" fill="#111">20</text><line x1="292.3" y1="360.12" x2="296.4" y2="360.12" stroke="#000" stroke-width="1.3"/><text x="290.2" y="364.32" text-anchor="end" font-family='"Liberation Sans", sans-serif' font-weight="bold" font-size="10" textLength="9.9" lengthAdjust="spacingAndGlyphs" fill="#111">40</text><line x1="292.3" y1="341.78" x2="296.4" y2="341.78" stroke="#000" stroke-width="1.3"/><text x="290.2" y="345.98" text-anchor="end" font-family='"Liberation Sans", sans-serif' font-weight="bold" font-size="10" textLength="9.9" lengthAdjust="spacingAndGlyphs" fill="#111">60</text><line x1="292.3" y1="323.44" x2="296.4" y2="323.44" stroke="#000" stroke-width="1.3"/><text x="290.2" y="327.64" text-anchor="end" font-family='"Liberation Sans", sans-serif' font-weight="bold" font-size="10" textLength="9.9" lengthAdjust="spacingAndGlyphs" fill="#111">80</text><line x1="292.3" y1="305.1" x2="296.4" y2="305.1" stroke="#000" stroke-width="1.3"/><text x="290.2" y="309.3" text-anchor="end" font-family='"Liberation Sans", sans-serif' font-weight="bold" font-size="10" textLength="14.8" lengthAdjust="spacingAndGlyphs" fill="#111">100</text><line x1="292.3" y1="286.76" x2="296.4" y2="286.76" stroke="#000" stroke-width="1.3"/><text x="290.2" y="290.96" text-anchor="end" font-family='"Liberation Sans", sans-serif' font-weight="bold" font-size="10" textLength="14.8" lengthAdjust="spacingAndGlyphs" fill="#111">120</text><line x1="292.3" y1="268.42" x2="296.4" y2="268.42" stroke="#000" stroke-width="1.3"/><text x="290.2" y="272.62" text-anchor="end" font-family='"Liberation Sans", sans-serif' font-weight="bold" font-size="10" textLength="14.8" lengthAdjust="spacingAndGlyphs" fill="#111">140</text><line x1="292.3" y1="396.8" x2="502.8" y2="396.8" stroke="#000" stroke-width="1.4"/><path d="M349.5 287V293.8M349.5 290.4H484.8M484.8 287V293.8" stroke="#444" stroke-width="1.2" fill="none"/><text x="417.7" y="286.6" text-anchor="middle" font-family='"Liberation Sans", sans-serif' font-size="11" font-weight="bold" fill="#333">***</text><text transform="translate(267 327.8) rotate(-90)" text-anchor="middle" font-family='"Liberation Sans", sans-serif' font-weight="bold" font-size="10" textLength="91.5" lengthAdjust="spacingAndGlyphs" fill="#111">Ratio to control (%)</text><text x="325.9" y="463.9" font-family='"Liberation Sans", sans-serif' font-weight="bold" font-size="10" textLength="124" lengthAdjust="spacingAndGlyphs" fill="#111">Drug concentrations (µM)</text><line x1="568.3" y1="396.9" x2="568.3" y2="400.5" stroke="#000" stroke-width="1.3"/><text transform="translate(570.9 410.5) rotate(-45)" text-anchor="end" font-family='"Liberation Sans", sans-serif' font-weight="bold" font-size="10.6" fill="#111">Control (-)</text><line x1="602.56" y1="396.9" x2="602.56" y2="400.5" stroke="#000" stroke-width="1.3"/><text transform="translate(605.16 410.5) rotate(-45)" text-anchor="end" font-family='"Liberation Sans", sans-serif' font-weight="bold" font-size="10.6" fill="#111">2.5</text><line x1="636.82" y1="396.9" x2="636.82" y2="400.5" stroke="#000" stroke-width="1.3"/><text transform="translate(639.42 410.5) rotate(-45)" text-anchor="end" font-family='"Liberation Sans", sans-serif' font-weight="bold" font-size="10.6" fill="#111">5</text><line x1="671.08" y1="396.9" x2="671.08" y2="400.5" stroke="#000" stroke-width="1.3"/><text transform="translate(673.68 410.5) rotate(-45)" text-anchor="end" font-family='"Liberation Sans", sans-serif' font-weight="bold" font-size="10.6" fill="#111">10</text><line x1="705.34" y1="396.9" x2="705.34" y2="400.5" stroke="#000" stroke-width="1.3"/><text transform="translate(707.94 410.5) rotate(-45)" text-anchor="end" font-family='"Liberation Sans", sans-serif' font-weight="bold" font-size="10.6" fill="#111">20</text><line x1="739.6" y1="396.9" x2="739.6" y2="400.5" stroke="#000" stroke-width="1.3"/><text transform="translate(742.2 410.5) rotate(-45)" text-anchor="end" font-family='"Liberation Sans", sans-serif' font-weight="bold" font-size="10.6" fill="#111">CsA</text><text x="514.2" y="257" font-family='"Liberation Sans", sans-serif' font-weight="bold" font-size="12.2" fill="#111">F)</text><line x1="552.3" y1="260.1" x2="552.3" y2="397.5" stroke="#000" stroke-width="1.4"/><line x1="548.2" y1="396.9" x2="552.3" y2="396.9" stroke="#000" stroke-width="1.3"/><text x="546.1" y="401.1" text-anchor="end" font-family='"Liberation Sans", sans-serif' font-weight="bold" font-size="10" fill="#111">0</text><line x1="548.2" y1="378.56" x2="552.3" y2="378.56" stroke="#000" stroke-width="1.3"/><text x="546.1" y="382.76" text-anchor="end" font-family='"Liberation Sans", sans-serif' font-weight="bold" font-size="10" textLength="9.9" lengthAdjust="spacingAndGlyphs" fill="#111">20</text><line x1="548.2" y1="360.22" x2="552.3" y2="360.22" stroke="#000" stroke-width="1.3"/><text x="546.1" y="364.42" text-anchor="end" font-family='"Liberation Sans", sans-serif' font-weight="bold" font-size="10" textLength="9.9" lengthAdjust="spacingAndGlyphs" fill="#111">40</text><line x1="548.2" y1="341.88" x2="552.3" y2="341.88" stroke="#000" stroke-width="1.3"/><text x="546.1" y="346.08" text-anchor="end" font-family='"Liberation Sans", sans-serif' font-weight="bold" font-size="10" textLength="9.9" lengthAdjust="spacingAndGlyphs" fill="#111">60</text><line x1="548.2" y1="323.54" x2="552.3" y2="323.54" stroke="#000" stroke-width="1.3"/><text x="546.1" y="327.74" text-anchor="end" font-family='"Liberation Sans", sans-serif' font-weight="bold" font-size="10" textLength="9.9" lengthAdjust="spacingAndGlyphs" fill="#111">80</text><line x1="548.2" y1="305.2" x2="552.3" y2="305.2" stroke="#000" stroke-width="1.3"/><text x="546.1" y="309.4" text-anchor="end" font-family='"Liberation Sans", sans-serif' font-weight="bold" font-size="10" textLength="14.8" lengthAdjust="spacingAndGlyphs" fill="#111">100</text><line x1="548.2" y1="286.86" x2="552.3" y2="286.86" stroke="#000" stroke-width="1.3"/><text x="546.1" y="291.06" text-anchor="end" font-family='"Liberation Sans", sans-serif' font-weight="bold" font-size="10" textLength="14.8" lengthAdjust="spacingAndGlyphs" fill="#111">120</text><line x1="548.2" y1="268.52" x2="552.3" y2="268.52" stroke="#000" stroke-width="1.3"/><text x="546.1" y="272.72" text-anchor="end" font-family='"Liberation Sans", sans-serif' font-weight="bold" font-size="10" textLength="14.8" lengthAdjust="spacingAndGlyphs" fill="#111">140</text><line x1="548.2" y1="396.9" x2="758.4" y2="396.9" stroke="#000" stroke-width="1.4"/><path d="M605.5 287V293.8M605.5 290.4H740.4M740.4 287V293.8" stroke="#444" stroke-width="1.2" fill="none"/><text x="673.2" y="286.6" text-anchor="middle" font-family='"Liberation Sans", sans-serif' font-size="11" font-weight="bold" fill="#333">***</text><text transform="translate(522.4 328) rotate(-90)" text-anchor="middle" font-family='"Liberation Sans", sans-serif' font-weight="bold" font-size="10" textLength="91.2" lengthAdjust="spacingAndGlyphs" fill="#111">Ratio to control (%)</text><text x="581" y="463.9" font-family='"Liberation Sans", sans-serif' font-weight="bold" font-size="10" textLength="124.3" lengthAdjust="spacingAndGlyphs" fill="#111">Drug concentrations (µM)</text></g>
<text x="740.8" y="70.5" font-family='"Liberation Sans", sans-serif' font-size="11.4" textLength="12.4" lengthAdjust="spacingAndGlyphs" fill="#d43030" stroke="#d43030" stroke-width="0.3">SC</text>
<text x="745.6" y="112.3" font-family='"Liberation Sans", sans-serif' font-size="11.2" textLength="12.4" lengthAdjust="spacingAndGlyphs" fill="#4f7fc4" stroke="#4f7fc4" stroke-width="0.25">MI</text>
<text x="743.2" y="318.1" font-family='"Liberation Sans", sans-serif' font-size="11.4" textLength="12.4" lengthAdjust="spacingAndGlyphs" fill="#d43030" stroke="#d43030" stroke-width="0.3">SC</text>
<text x="745" y="358.3" font-family='"Liberation Sans", sans-serif' font-size="11.2" textLength="12.4" lengthAdjust="spacingAndGlyphs" fill="#4f7fc4" stroke="#4f7fc4" stroke-width="0.25">MI</text>
<rect x="14.4" y="506.4" width="17.6" height="8.6" rx="1.8" fill="url(#chk)" stroke="#000" stroke-width="2.4"/>
<rect x="13.3" y="523.9" width="19.8" height="10.7" rx="2" fill="#000"/>
<text x="41.8" y="515" font-family='"Liberation Sans", sans-serif' font-size="13.4" textLength="23.7" lengthAdjust="spacingAndGlyphs" fill="#333">MTT</text>
<text x="41.5" y="533" font-family='"Liberation Sans", sans-serif' font-size="13.4" textLength="100.6" lengthAdjust="spacingAndGlyphs" fill="#333">Luciferase Assay</text>
<line x1="165.1" y1="509.7" x2="197" y2="509.7" stroke="#bf2232" stroke-width="1.9" stroke-dasharray="4.8 2.6"/>
<line x1="163" y1="530.1" x2="197" y2="530.1" stroke="#5d76a2" stroke-width="1.9" stroke-dasharray="4.5 2.9"/>
<text x="201.2" y="512.7" font-family='"Liberation Sans", sans-serif' font-size="11.3" textLength="281" lengthAdjust="spacingAndGlyphs" fill="#d62a36" stroke="#d62a36" stroke-width="0.25">SC - Arbitrary Maximum Safe Concentration for Hecate</text>
<text x="202.2" y="533.7" font-family='"Liberation Sans", sans-serif' font-size="11.3" textLength="212.8" lengthAdjust="spacingAndGlyphs" fill="#5580c4" stroke="#5580c4" stroke-width="0.2">MI - Maximum Inhibition at SC for Hecate</text>
</g></svg></div></body></html>
